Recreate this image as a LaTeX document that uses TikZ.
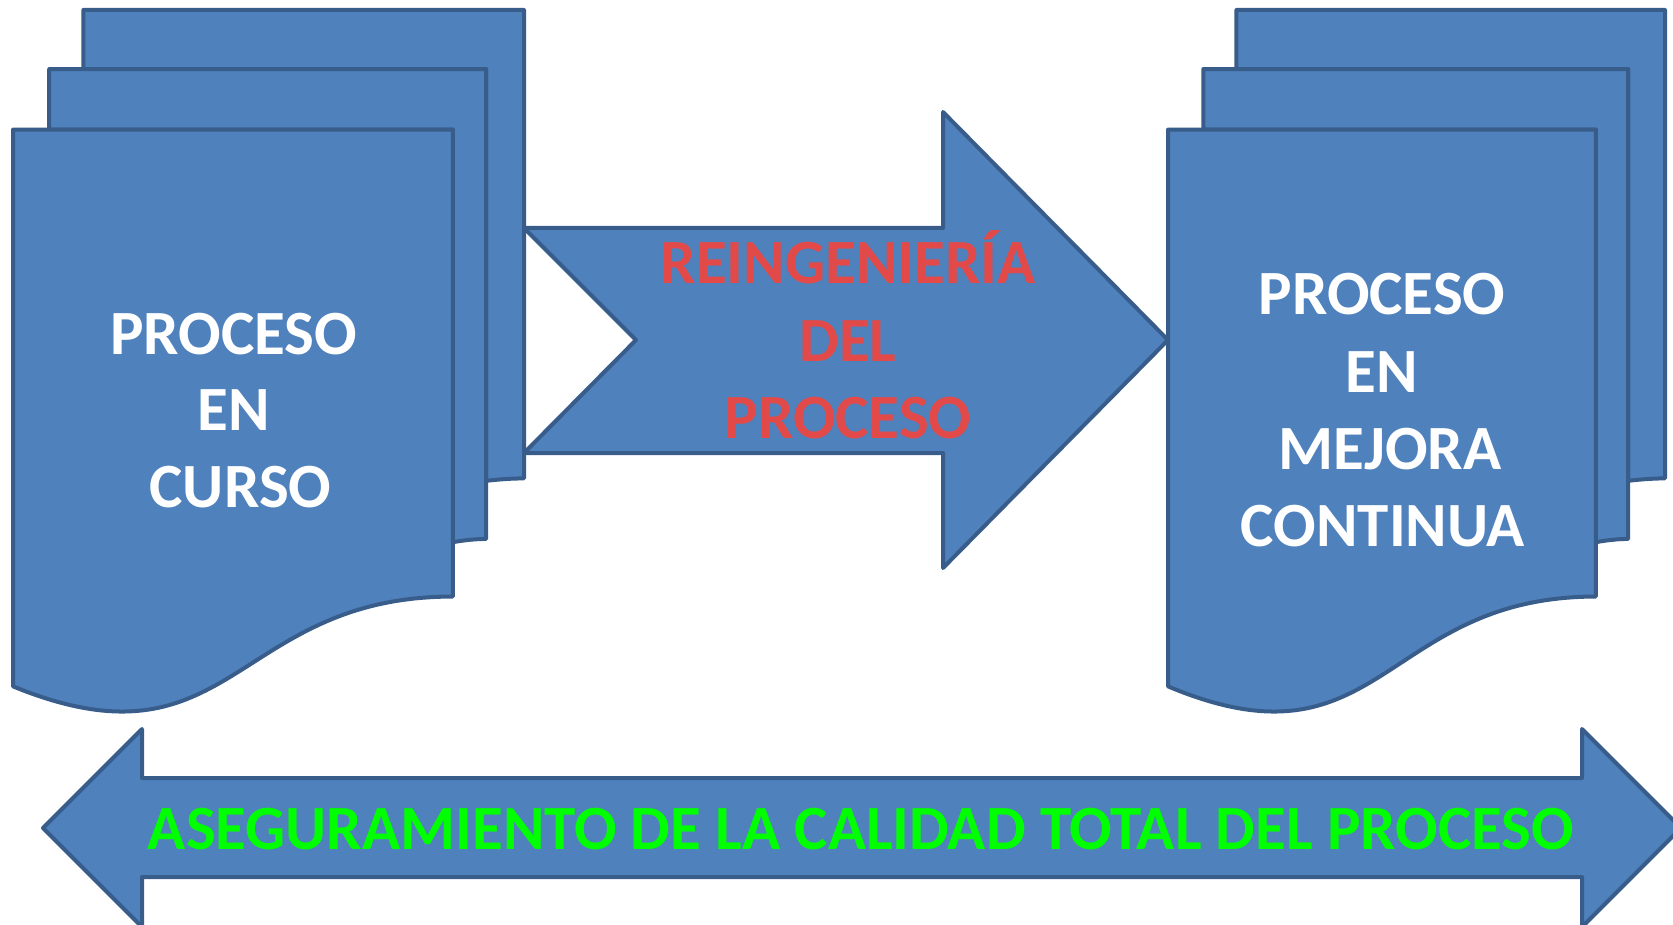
\documentclass[tikz,border=0pt]{standalone}
\usepackage{fontspec}
\setmainfont{Carlito}
\definecolor{docfill}{HTML}{4F81BD}
\definecolor{docline}{HTML}{385D8A}
\definecolor{redtxt}{HTML}{E24A4A}
\definecolor{greentxt}{HTML}{00FF00}
\tikzset{
  shapebox/.style={fill=docfill, draw=docline, line width=4pt, line join=round},
  bigtxt/.style={font=\fontsize{63}{76}\selectfont\bfseries, inner sep=0pt, anchor=base},
  whitetxt/.style={bigtxt, text=white},
  redlabel/.style={bigtxt, text=redtxt},
  greenlabel/.style={bigtxt, text=greentxt},
}
\newcommand\multidocshape[4]{%
  \begin{scope}[shift={(#1,#2)}, xscale=#3/216, yscale=#4/216]
    \draw[shapebox] (29.72,18.15) -- (29.72,0) -- (216,0) -- (216,143.92)
      .. controls (208,143.92) and (200,144.67) .. (200,144.67) -- (200,18.15) -- cycle;
    \draw[shapebox] (15.32,36.75) -- (15.32,18.15) -- (200,18.15) -- (200,162.52)
      .. controls (192.98,162.52) and (185.95,163.52) .. (185.95,163.52) -- (185.95,36.75) -- cycle;
    \draw[shapebox] (0,207.82) .. controls (92.98,235.42) and (92.98,180.22) .. (185.95,180.22)
      -- (185.95,36.75) -- (0,36.75) -- cycle;
  \end{scope}}
\begin{document}
\begin{tikzpicture}[x=1pt,y=-1pt]
\useasboundingbox (0,0) rectangle (1673,925);
\fill[white] (0,0) rectangle (1673,925);
% left multi-document
\multidocshape{13}{10}{511}{703}
% right multi-document
\multidocshape{1168}{10}{497}{703}
% middle block arrow (notched)
\draw[shapebox] (524,228) -- (943,228) -- (943,112) -- (1168,340) -- (943,568)
  -- (943,453) -- (524,453) -- (636,340) -- cycle;
% bottom double arrow
\draw[shapebox] (43,828) -- (142,729) -- (142,778) -- (1582,778) -- (1582,729)
  -- (1681,828) -- (1582,927) -- (1582,877) -- (142,877) -- (142,927) -- cycle;
% left texts
\node[whitetxt] (l1) at (233.5,354) {PROCESO};
\node[whitetxt] (l2) at (233.5,430) {EN};
\node[whitetxt] (l3) at (240.5,507) {CURSO};
% right texts
\node[whitetxt] (r1) at (1382,315) {PROCESO};
\node[whitetxt] (r2) at (1382,392) {EN};
\node[whitetxt] (r3) at (1390,469) {MEJORA};
\node[whitetxt] (r4) at (1383,546) {CONTINUA};
% middle arrow texts
\node[redlabel] (m1) at (848,284) {REINGENIERÍA};
\node[redlabel] (m2) at (848,361) {DEL};
\node[redlabel] (m3) at (848,438) {PROCESO};
% bottom text
\node[greenlabel] (b1) at (861,849) {ASEGURAMIENTO DE LA CALIDAD TOTAL DEL PROCESO};
\end{tikzpicture}
\end{document}
